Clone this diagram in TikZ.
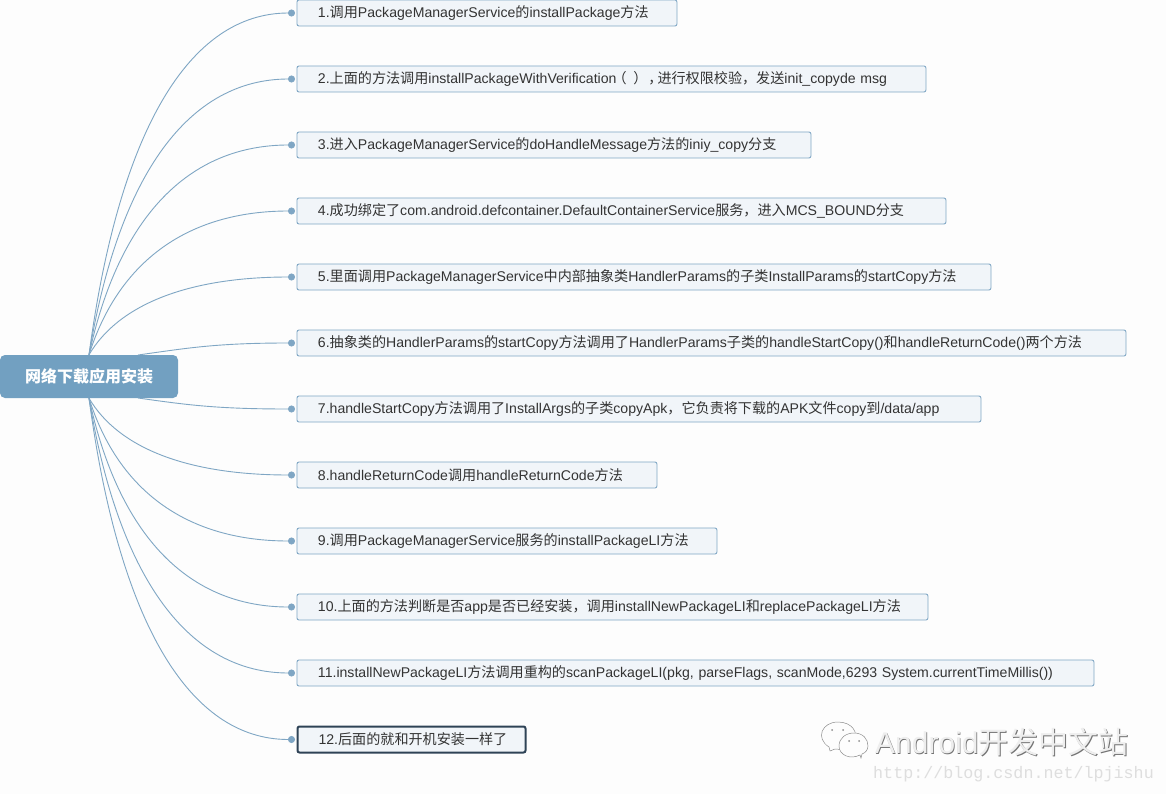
\documentclass[tikz,border=0pt]{standalone}
\usepackage{fontspec}
\setmainfont{Liberation Sans}
\setmonofont{Liberation Mono}
\newfontfamily\cjk{Noto Sans CJK SC}
\newcommand{\cn}[1]{{\cjk #1}}
\usetikzlibrary{arrows.meta}
\definecolor{mmbg}{HTML}{FDFDFD}
\definecolor{mmroot}{HTML}{72A0C1}
\definecolor{mmline}{HTML}{7FA6C4}
\definecolor{mmleaf}{HTML}{F1F5F9}
\definecolor{mmtext}{HTML}{333333}
\definecolor{mmdark}{HTML}{2F4356}
\tikzset{
  leafbox/.style={draw=mmline,fill=mmleaf,line width=.9pt,rounded corners=2pt,anchor=west,
    minimum height=26pt,inner ysep=0pt,inner xsep=21pt,align=left,text=mmtext,
    font=\fontsize{14.1}{15}\selectfont},
  branch/.style={mmline,line width=.9pt,-{Circle[length=7pt]},shorten >=1.5pt},
}
\begin{document}
\begin{tikzpicture}[x=1pt,y=-1pt]
\path[use as bounding box] (0,0) rectangle (1166,794);
\fill[mmbg] (0,0) rectangle (1166,794);
\node[fill=mmroot,rounded corners=5pt,minimum width=178pt,minimum height=43pt,inner sep=0pt,text=white,font=\fontsize{16}{17}\cjk\bfseries] (root) at (89,376.5) {网络下载应用安装};
\node[leafbox,text width=338pt] (l1) at (296.5,13) {1.\cn{调用}PackageManagerService\cn{的}installPackage\cn{方法}};
\node[leafbox,text width=587pt] (l2) at (296.5,79) {2.\cn{上面的方法调用}installPackageWithVerification\cn{\kern-4pt（\kern2pt\ ）\kern1pt，\kern-5pt进行权限校验，发送}init\_copyde msg};
\node[leafbox,text width=472pt] (l3) at (296.5,145) {3.\cn{进入}PackageManagerService\cn{的}doHandleMessage\cn{方法的}iniy\_copy\cn{分支}};
\node[leafbox,text width=607pt] (l4) at (296.5,211) {4.\cn{成功绑定了}com.android.defcontainer.DefaultContainerService\cn{服务，进入}MCS\_BOUND\cn{分支}};
\node[leafbox,text width=652pt] (l5) at (296.5,277) {5.\cn{里面调用}PackageManagerService\cn{中内部抽象类}HandlerParams\cn{的子类}InstallParams\cn{的}startCopy\cn{方法}};
\node[leafbox,text width=787pt] (l6) at (296.5,343) {6.\cn{抽象类的}HandlerParams\cn{的}startCopy\cn{方法调用了}HandlerParams\cn{子类的}handleStartCopy()\cn{和}handleReturnCode()\cn{两个方法}};
\node[leafbox,text width=642pt] (l7) at (296.5,409) {7.handleStartCopy\cn{方法调用了}InstallArgs\cn{的子类}copyApk\cn{，它负责将下载的}APK\cn{文件}copy\cn{到}/data/app};
\node[leafbox,text width=318pt] (l8) at (296.5,475) {8.handleReturnCode\cn{调用}handleReturnCode\cn{方法}};
\node[leafbox,text width=378pt] (l9) at (296.5,541) {9.\cn{调用}PackageManagerService\cn{服务的}installPackageLI\cn{方法}};
\node[leafbox,text width=589pt] (l10) at (296.5,607) {10.\cn{上面的方法判断是否}app\cn{是否已经安装，调用}installNewPackageLI\cn{和}replacePackageLI\cn{方法}};
\node[leafbox,text width=755pt] (l11) at (296.5,673) {11.installNewPackageLI\cn{方法调用重构的}scanPackageLI(pkg, parseFlags, scanMode,6293 System.currentTimeMillis())};
\node[leafbox,text width=186pt,draw=mmdark,line width=2pt] (l12) at (296.5,739.5) {12.\cn{后面的就和开机安装一样了}};
\coordinate (rootup) at (138,355);
\coordinate (rootdown) at (138,398);
\draw[branch] (root.north) .. controls +(30,-225) and +(-107,0) .. (l1.west);
\draw[branch] (root.north) .. controls +(30,-182) and +(-107,0) .. (l2.west);
\draw[branch] (root.north) .. controls +(30,-139) and +(-107,0) .. (l3.west);
\draw[branch] (root.north) .. controls +(30,-95) and +(-107,0) .. (l4.west);
\draw[branch] (root.north) .. controls +(30,-51) and +(-107,0) .. (l5.west);
\draw[branch] (rootup) .. controls +(50,-7) and +(-80,0) .. (l6.west);
\draw[branch] (rootdown) .. controls +(50,7) and +(-80,0) .. (l7.west);
\draw[branch] (root.south) .. controls +(30,51) and +(-107,0) .. (l8.west);
\draw[branch] (root.south) .. controls +(30,95) and +(-107,0) .. (l9.west);
\draw[branch] (root.south) .. controls +(30,139) and +(-107,0) .. (l10.west);
\draw[branch] (root.south) .. controls +(30,182) and +(-107,0) .. (l11.west);
\draw[branch] (root.south) .. controls +(30,225) and +(-107,0) .. (l12.west);
% watermark
\begin{scope}[draw=black!45,fill=mmbg,line width=.5pt]
\filldraw (830,751) -- (829,747) .. controls (815,738) and (822,722) .. (838,722) .. controls (852,722) and (860,733) .. (853,743) .. controls (848,749) and (840,750) .. (835,749) -- cycle;
\filldraw (861,758) -- (860,755) .. controls (850,760) and (839,755) .. (839,746) .. controls (839,738) and (846,733) .. (854,733) .. controls (863,733) and (868,739) .. (868,746) .. controls (868,750) and (865,753) .. (862,754) -- cycle;
\fill[black!45] (832,730) circle (1pt) (843,730) circle (1pt) (849,741) circle (1pt) (859,741) circle (1pt);
\end{scope}
\node[anchor=west,inner sep=0pt,text=black!55,font=\fontsize{30}{31}\selectfont] (marks) at (875.7,742.7) {Android\cn{开发中文站}};
\node[anchor=west,inner sep=0pt,text=mmbg!94!black,font=\fontsize{30}{31}\selectfont] (mark) at (875,742) {Android\cn{开发中文站}};
\node[anchor=west,inner sep=0pt,text=black!13,font=\fontsize{16.7}{18}\ttfamily] (url) at (873,774) {http://blog.csdn.net/lpjishu};
\end{tikzpicture}
\end{document}
